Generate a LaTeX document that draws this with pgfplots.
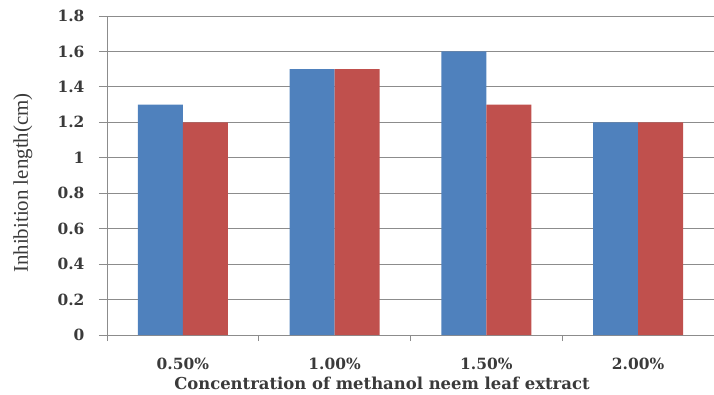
\documentclass[border=0pt]{standalone}
\usepackage{fontspec}
\setmainfont{Liberation Serif}
\newfontfamily\tickfont{DejaVu Serif}
\usepackage{pgfplots}
\pgfplotsset{compat=1.18}
\definecolor{barblue}{HTML}{4F81BD}
\definecolor{barred}{HTML}{C0504D}
\definecolor{gridgray}{HTML}{8C8C8C}
\definecolor{labtext}{HTML}{3A3A3A}
\begin{document}
\begin{tikzpicture}
\useasboundingbox (-107bp,-60bp) rectangle (607bp,335bp);
\begin{axis}[
  at={(0,0)}, anchor=south west,
  scale only axis, width=607bp, height=319bp,
  ybar=0pt, bar width=45bp,
  xmin=-0.5, xmax=3.5, ymin=0, ymax=1.8,
  xtick={0,1,2,3},
  xticklabels={0.50\%,1.00\%,1.50\%,2.00\%},
  minor xtick={-0.5,0.5,1.5,2.5,3.5},
  ytick={0,0.2,...,1.8},
  yticklabels={0,0.2,0.4,0.6,0.8,1,1.2,1.4,1.6,1.8},
  major x tick style={draw=none},
  minor x tick style={draw=gridgray, line width=1pt},
  minor tick length=6bp,
  major tick length=8bp,
  y tick style={draw=gridgray, line width=1pt},
  tick align=outside,
  ymajorgrids, grid style={gridgray, line width=1pt},
  axis x line*=bottom, axis y line*=left,
  axis line style={gridgray, line width=1pt, -},
  tick label style={font=\tickfont\bfseries\fontsize{15.5}{17}\selectfont, text=labtext},
  yticklabel style={xshift=-11bp},
  xticklabel style={yshift=-12bp},
  /pgf/number format/assume math mode=true,
  xlabel={\tickfont\bfseries\fontsize{16.5}{18}\selectfont Concentration of methanol neem leaf extract},
  xlabel style={at={(axis description cs:0.453,-0.1505)}, anchor=center, text=labtext},
  ylabel={\fontsize{21}{23}\selectfont Inhibition length(cm)},
  ylabel style={at={(axis description cs:-0.1384,0.4765)}, anchor=center, text=labtext},
  clip=false,
]
\addplot[fill=barblue, draw=none] coordinates {(0,1.3) (1,1.5) (2,1.6) (3,1.2)};
\addplot[fill=barred, draw=none] coordinates {(0,1.2) (1,1.5) (2,1.3) (3,1.2)};
\end{axis}
\end{tikzpicture}
\end{document}
